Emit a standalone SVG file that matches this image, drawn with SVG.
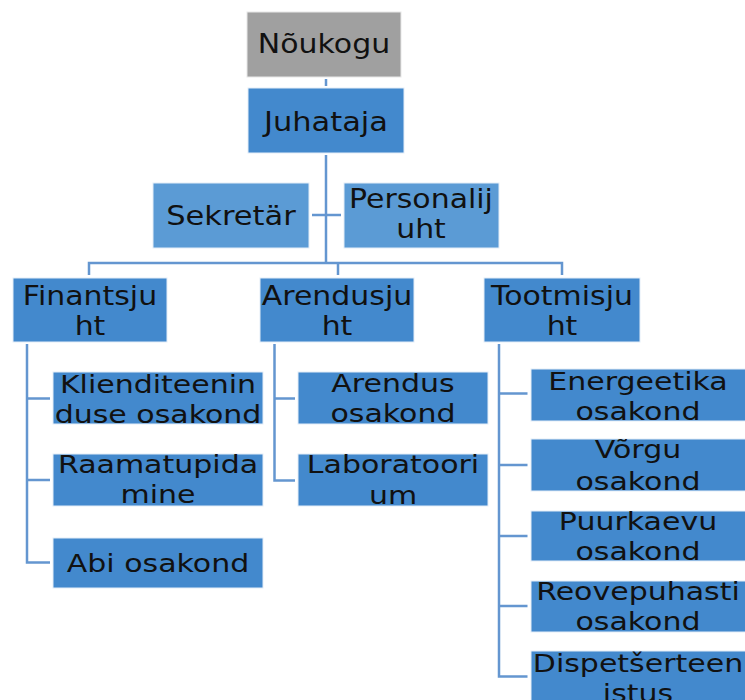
<svg xmlns="http://www.w3.org/2000/svg" width="745" height="700" viewBox="0 0 745 700">
<style>
.box{fill:#4389cd;stroke:#e4edf8;stroke-width:1}
.lt{fill:#5b9bd5;stroke:#e4edf8;stroke-width:1}
.gr{fill:#a0a0a0;stroke:#e8e8e8;stroke-width:1}
.t{font-family:"DejaVu Sans",Verdana,sans-serif;font-size:25px;fill:#111;text-anchor:middle}
.b{font-size:26.5px}
.ln{fill:none;stroke:#6496d0;stroke-width:2.5}
</style>
<rect width="745" height="700" fill="#fff"/>
<g id="connectors">
<path class="ln" d="M326 79V86"/>
<path class="ln" d="M326 155V263" stroke-width="3"/>
<path class="ln" d="M312 215H341"/>
<path class="ln" d="M89 275V263H562V275M338 263V275"/>
<path class="ln" d="M27 344V562.5H50M27 398.5H50M27 480H50"/>
<path class="ln" d="M274.5 344V480.5H295M274.5 398.5H295"/>
<path class="ln" d="M499 344V676.5H527.5M499 393.5H527.5M499 465H527.5M499 536H527.5M499 606H527.5"/>
</g>
<g id="noukogu"><rect class="gr" x="247" y="12" width="154" height="65"/><text class="t b" transform="translate(324,53) scale(1.13,1)">Nõukogu</text></g>
<g id="juhataja"><rect class="box" x="248" y="88" width="156" height="65"/><text class="t b" transform="translate(326,131) scale(1.15,1)">Juhataja</text></g>
<g id="sekretar"><rect class="lt" x="153" y="183" width="156" height="65"/><text class="t b" transform="translate(231,225) scale(1.15,1)">Sekretär</text></g>
<g id="personalijuht"><rect class="lt" x="344" y="183" width="155" height="65"/><text class="t b" transform="translate(421,208) scale(1.13,1)">Personalij</text><text class="t b" transform="translate(421,238) scale(1.13,1)">uht</text></g>
<g id="finantsjuht"><rect class="box" x="13" y="278" width="154" height="64"/><text class="t b" transform="translate(90,305) scale(1.13,1)">Finantsju</text><text class="t b" transform="translate(90,335) scale(1.13,1)">ht</text></g>
<g id="arendusjuht"><rect class="box" x="260" y="278" width="154" height="64"/><text class="t b" transform="translate(337,305) scale(1.13,1)">Arendusju</text><text class="t b" transform="translate(337,335) scale(1.13,1)">ht</text></g>
<g id="tootmisjuht"><rect class="box" x="484" y="278" width="156" height="64"/><text class="t b" transform="translate(562,305) scale(1.13,1)">Tootmisju</text><text class="t b" transform="translate(562,335) scale(1.13,1)">ht</text></g>
<g id="klienditeenindus"><rect class="box" x="53" y="372" width="210" height="52"/><text class="t" transform="translate(158,393) scale(1.2,1)">Klienditeenin</text><text class="t" transform="translate(158,423) scale(1.2,1)">duse osakond</text></g>
<g id="raamatupidamine"><rect class="box" x="53" y="454" width="210" height="52"/><text class="t" transform="translate(158,473) scale(1.2,1)">Raamatupida</text><text class="t" transform="translate(158,503) scale(1.2,1)">mine</text></g>
<g id="abi"><rect class="box" x="53" y="538" width="210" height="50"/><text class="t" transform="translate(158,572) scale(1.2,1)">Abi osakond</text></g>
<g id="arendus"><rect class="box" x="298" y="372" width="190" height="52"/><text class="t" transform="translate(393,392) scale(1.2,1)">Arendus</text><text class="t" transform="translate(393,422) scale(1.2,1)">osakond</text></g>
<g id="laboratoorium"><rect class="box" x="298" y="454" width="190" height="52"/><text class="t" transform="translate(393,473) scale(1.2,1)">Laboratoori</text><text class="t" transform="translate(393,504) scale(1.2,1)">um</text></g>
<g id="energeetika"><rect class="box" x="531" y="369" width="216" height="52"/><text class="t" transform="translate(638,390) scale(1.2,1)">Energeetika</text><text class="t" transform="translate(638,420) scale(1.2,1)">osakond</text></g>
<g id="vorgu"><rect class="box" x="531" y="439" width="216" height="52"/><text class="t" transform="translate(638,458) scale(1.2,1)">Võrgu</text><text class="t" transform="translate(638,490) scale(1.2,1)">osakond</text></g>
<g id="puurkaevu"><rect class="box" x="531" y="511" width="216" height="50"/><text class="t" transform="translate(638,530) scale(1.2,1)">Puurkaevu</text><text class="t" transform="translate(638,560) scale(1.2,1)">osakond</text></g>
<g id="reovepuhasti"><rect class="box" x="531" y="581" width="216" height="51"/><text class="t" transform="translate(638,600) scale(1.2,1)">Reovepuhasti</text><text class="t" transform="translate(638,630) scale(1.2,1)">osakond</text></g>
<g id="dispetserteenistus"><rect class="box" x="531" y="651" width="216" height="52"/><text class="t" transform="translate(638,672) scale(1.2,1)">Dispetšerteen</text><text class="t" transform="translate(638,702) scale(1.2,1)">istus</text></g>
</svg>
